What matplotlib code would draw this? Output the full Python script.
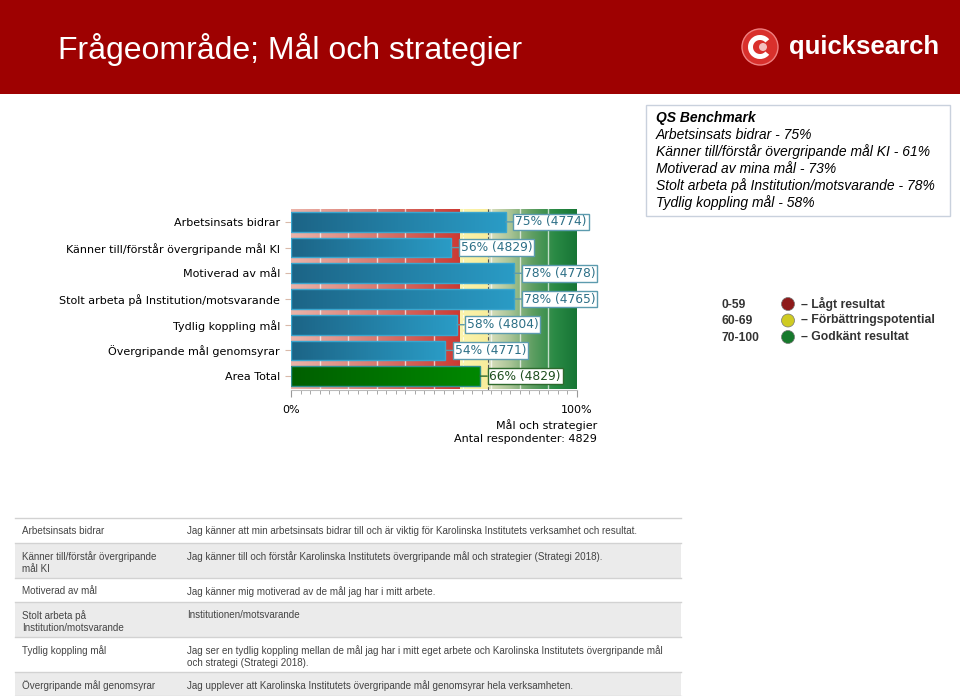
import numpy as np
import matplotlib.pyplot as plt
from matplotlib.colors import LinearSegmentedColormap
from matplotlib.patches import Rectangle, Circle, Wedge

categories = ['Arbetsinsats bidrar', 'Känner till/förstår övergripande mål KI', 'Motiverad av mål',
              'Stolt arbeta på Institution/motsvarande', 'Tydlig koppling mål',
              'Övergripande mål genomsyrar', 'Area Total']
values = [75, 56, 78, 78, 58, 54, 66]
counts = [4774, 4829, 4778, 4765, 4804, 4771, 4829]

zones = [(0, 59), (59, 69), (69, 100)]

benchmark = ['Arbetsinsats bidrar - 75%',
             'Känner till/förstår övergripande mål KI - 61%',
             'Motiverad av mina mål - 73%',
             'Stolt arbeta på Institution/motsvarande - 78%',
             'Tydlig koppling mål - 58%']

scale_ranges = ['0-59', '60-69', '70-100']
scale_names = ['– Lågt resultat', '– Förbättringspotential', '– Godkänt resultat']
scale_colors = ['#8E1B1B', '#CFCB22', '#17792C']

table_left = ['Arbetsinsats bidrar', 'Känner till/förstår övergripande\nmål KI', 'Motiverad av mål',
              'Stolt arbeta på\nInstitution/motsvarande', 'Tydlig koppling mål',
              'Övergripande mål genomsyrar']
table_right = ['Jag känner att min arbetsinsats bidrar till och är viktig för Karolinska Institutets verksamhet och resultat.',
               'Jag känner till och förstår Karolinska Institutets övergripande mål och strategier (Strategi 2018).',
               'Jag känner mig motiverad av de mål jag har i mitt arbete.',
               'Institutionen/motsvarande',
               'Jag ser en tydlig koppling mellan de mål jag har i mitt eget arbete och Karolinska Institutets övergripande mål\noch strategi (Strategi 2018).',
               'Jag upplever att Karolinska Institutets övergripande mål genomsyrar hela verksamheten.']

W, H = 960, 696
fig = plt.figure(figsize=(W / 100, H / 100), dpi=100)
fig.patch.set_facecolor('white')

# overlay in pixel coordinates for slide decorations
ov = fig.add_axes([0, 0, 1, 1])
ov.set_xlim(0, W)
ov.set_ylim(H, 0)
ov.axis('off')

# header band
ov.add_patch(Rectangle((0, 0), W, 94, fc='#9E0101', ec='none'))
ov.text(58, 50, 'Frågeområde; Mål och strategier', color='white', fontsize=23,
        family='Liberation Sans', va='center', ha='left')
ov.add_patch(Circle((760, 47), 18, fc='#D9302C', ec='#F08080', lw=1))
ov.add_patch(Wedge((760, 47), 12, 40, 320, width=5, fc='white', ec='none'))
ov.add_patch(Circle((763, 47), 4, fc='#F4C0C0', ec='none'))
ov.text(789, 47, 'quicksearch', color='white', fontsize=18.5, fontweight='bold',
        family='Liberation Sans', va='center', ha='left')

# main chart
ax = fig.add_axes([291 / W, 1 - 390 / H, 286 / W, 182 / H])
n = len(categories)
h = 0.77

red_cm = LinearSegmentedColormap.from_list('r', ['#EBB4AA', '#DA7A70', '#CC3A33'])
yel_cm = LinearSegmentedColormap.from_list('y', ['#FBF4AE', '#F8EC9A'])
grn_cm = LinearSegmentedColormap.from_list('g', ['#DCE0BE', '#A9C496', '#5E9E62', '#2A8A45', '#177535'])
grad = np.linspace(0, 1, 256).reshape(1, -1)
for (a, b), cm in zip(zones, [red_cm, yel_cm, grn_cm]):
    ax.imshow(grad, extent=(a, b, -0.5, n - 0.5), cmap=cm, aspect='auto', zorder=0)

for gx in range(10, 100, 10):
    if gx == 60:
        ax.axvline(gx, color='white', lw=0.8, ls=(0, (3, 2)), alpha=0.8, zorder=1)
    else:
        ax.axvline(gx, color='white', lw=1, alpha=0.7, zorder=1)
ax.axvline(69, color='#555555', lw=0.8, ls=(0, (3, 2)), zorder=1)

blue_cm = LinearSegmentedColormap.from_list('b', ['#1C6486', '#2A9CC6'])
green_cm = LinearSegmentedColormap.from_list('gg', ['#005F00', '#008800'])
y = np.arange(n)
for i, (v, c) in enumerate(zip(values, counts)):
    total = categories[i] == 'Area Total'
    bar = ax.barh(i, v, height=h, fc='none', ec='#2F8F90' if total else '#3AA6CF',
                  lw=1, zorder=4)[0]
    im = ax.imshow(grad, extent=(0, v, i - h / 2, i + h / 2),
                   cmap=green_cm if total else blue_cm, aspect='auto', zorder=3)
    im.set_clip_path(bar)
    ec = '#2E6A2E' if total else '#5C9BAE'
    tc = '#1E4E1E' if total else '#2C6F86'
    ax.annotate(f'{v}% ({c})', xy=(v, i), xytext=(7, 0), textcoords='offset points',
                va='center', ha='left', fontsize=8.8, color=tc, family='DejaVu Sans',
                bbox=dict(boxstyle='square,pad=0.15', fc='white', ec=ec, lw=1),
                arrowprops=dict(arrowstyle='-', color=ec, lw=1, shrinkA=0, shrinkB=0),
                zorder=5)

ax.set_xlim(0, 100)
ax.set_ylim(n - 0.5 + 0.04, -0.5 - 0.04)
ax.set_yticks(y)
ax.set_yticklabels(categories, fontsize=8, family='DejaVu Sans')
ax.tick_params(axis='y', length=4, color='#D9B9A9', pad=4)
ax.set_xticks([0, 100])
ax.set_xticklabels(['0%', '100%'], fontsize=8, family='DejaVu Sans')
ax.set_xticks(np.linspace(0, 100, 31), minor=True)
ax.tick_params(axis='x', which='major', length=5, color='#999999', pad=6)
ax.tick_params(axis='x', which='minor', length=3, color='#999999')
for s in ['top', 'right', 'left']:
    ax.spines[s].set_visible(False)
ax.spines['bottom'].set_color('#BBBBBB')

ov.text(597, 425, 'Mål och strategier', fontsize=8, family='DejaVu Sans', ha='right', va='center')
ov.text(597, 439, 'Antal respondenter: 4829', fontsize=8, family='DejaVu Sans', ha='right', va='center')

# benchmark box
ov.add_patch(Rectangle((646, 105), 304, 111, fc='white', ec='#C9D1DD', lw=1))
ov.text(656, 118, 'QS Benchmark', fontsize=10, family='Liberation Sans', style='italic',
        fontweight='bold', va='center')
for k, line in enumerate(benchmark):
    ov.text(656, 135 + k * 16.8, line, fontsize=10, family='Liberation Sans',
            style='italic', va='center')

# score legend
for k, (r, nm, col) in enumerate(zip(scale_ranges, scale_names, scale_colors)):
    yy = 305 + k * 16.5
    ov.text(721, yy, r, fontsize=8.7, family='Liberation Sans', fontweight='bold',
            color='#333333', va='center')
    ov.add_patch(Circle((788, yy - 1), 6.5, fc=col, ec='#777777', lw=0.5))
    ov.text(801, yy - 1, nm, fontsize=8.8, family='Liberation Sans', fontweight='bold',
            color='#333333', va='center')

# description table
row_edges = [518, 543, 578, 602, 637, 672, 696]
for k in range(len(table_left)):
    top, bot = row_edges[k], row_edges[k + 1]
    ov.add_patch(Rectangle((15, top), 666, bot - top,
                           fc='#EBEBEB' if k % 2 else 'white', ec='none'))
    ov.plot([15, 681], [top, top], color='#D2D2D2', lw=1)
    ov.text(22, top + 8, table_left[k], fontsize=7.1, family='Liberation Sans',
            color='#444444', va='top', linespacing=1.3)
    ov.text(187, top + 8, table_right[k], fontsize=7.1, family='Liberation Sans',
            color='#444444', va='top', linespacing=1.3)
ov.plot([15, 681], [row_edges[-1] - 0.5] * 2, color='#D2D2D2', lw=1)

fig.savefig('out.png', dpi=100)
